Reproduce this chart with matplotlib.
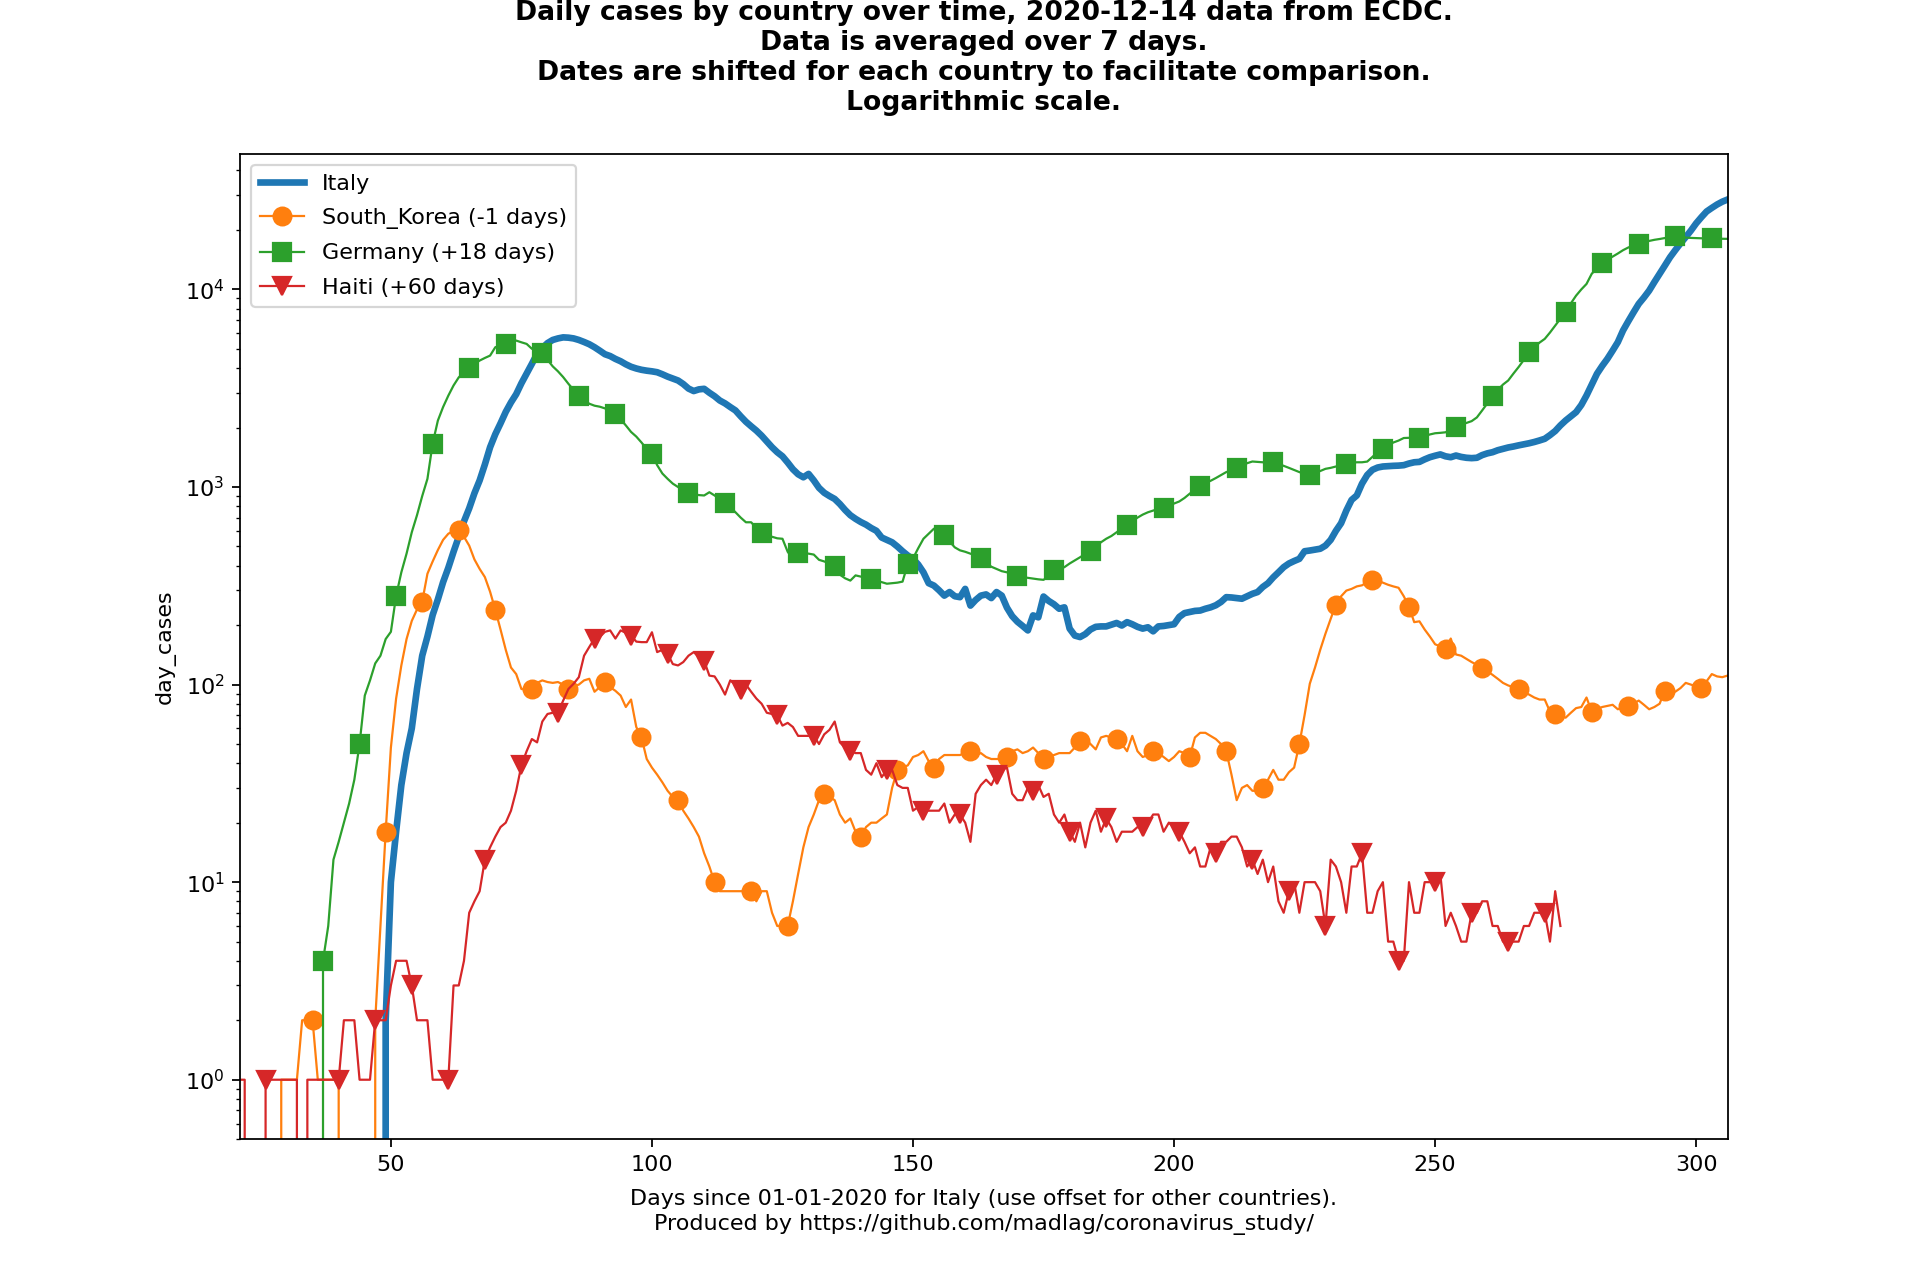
import numpy as np
import matplotlib
matplotlib.use('Agg')
import matplotlib.pyplot as plt

# 7-day averaged daily cases, one value per day
italy_start = 48
italy_cases = [
    0, 2, 10, 18, 31, 45, 60, 95, 140, 175,
    225, 270, 330, 390, 470, 560, 670, 780, 930, 1080,
    1300, 1590, 1850, 2100, 2400, 2680, 2950, 3350, 3750, 4200,
    4720, 5050, 5350, 5550, 5650, 5720, 5700, 5650, 5550, 5420,
    5280, 5100, 4900, 4700, 4600, 4450, 4330, 4180, 4060, 3980,
    3920, 3880, 3850, 3810, 3720, 3620, 3540, 3460, 3320, 3150,
    3060, 3120, 3140, 3000, 2880, 2740, 2650, 2540, 2440, 2280,
    2140, 2030, 1930, 1820, 1700, 1590, 1500, 1430, 1330, 1230,
    1160, 1120, 1165, 1080, 990, 935, 900, 870, 820, 765,
    720, 690, 665, 645, 620, 600, 555, 540, 525, 500,
    473, 450, 433, 405, 370, 326, 317, 300, 282, 294,
    280, 277, 305, 251, 268, 282, 286, 274, 294, 282,
    245, 222, 208, 198, 188, 224, 219, 279, 265, 255,
    242, 246, 192, 177, 174, 180, 190, 196, 197, 197,
    201, 205, 199, 207, 202, 196, 192, 195, 186, 197,
    198, 200, 202, 220, 230, 233, 236, 237, 242, 246,
    252, 262, 277, 276, 274, 272, 280, 288, 294, 312,
    326, 349, 370, 393, 410, 422, 433, 473, 477, 482,
    487, 505, 540, 600, 656, 760, 860, 906, 1040, 1150,
    1222, 1255, 1270, 1275, 1280, 1283, 1290, 1315, 1334, 1340,
    1380, 1415, 1440, 1462, 1430, 1415, 1443, 1420, 1406, 1400,
    1406, 1450, 1480, 1500, 1535, 1560, 1585, 1603, 1625, 1645,
    1665, 1690, 1720, 1754, 1830, 1920, 2050, 2170, 2280, 2393,
    2600, 2905, 3300, 3741, 4100, 4455, 4900, 5410, 6200, 6900,
    7650, 8450, 9100, 9865, 10900, 11990, 13200, 14550, 15800, 17100,
    18400, 19860, 21600, 23200, 24800, 25860, 26900, 27800, 28500,
]

korea_start = 28
korea_cases = [
    0, 1, 1, 1, 1, 2, 2, 2, 1, 1,
    1, 1, 1, 0, 0, 0, 0, 0, 0, 2,
    6, 18, 48, 85, 125, 170, 210, 240, 263, 364,
    420, 480, 540, 580, 600, 603, 560, 505, 430, 385,
    350, 295, 239, 190, 150, 122, 113, 95, 94, 95,
    102, 105, 103, 102, 103, 100, 95, 98, 100, 105,
    107, 92, 97, 103, 97, 93, 88, 77, 84, 61,
    54, 42, 38, 35, 32, 29, 27, 26, 23, 21,
    19, 17, 14, 12, 10, 9, 9, 9, 9, 9,
    9, 9, 8, 9, 9, 7, 6, 6, 6, 8,
    11, 15, 19, 22, 26, 28, 27, 26, 22, 20,
    21, 18, 17, 19, 20, 20, 21, 22, 30, 37,
    38, 39, 43, 44, 46, 41, 38, 42, 44, 44,
    44, 44, 45, 46, 44, 45, 43, 42, 42, 42,
    43, 46, 47, 45, 46, 48, 45, 42, 43, 44,
    45, 45, 45, 48, 52, 53, 50, 47, 54, 55,
    54, 53, 50, 46, 55, 46, 43, 44, 46, 45,
    43, 41, 43, 46, 45, 43, 54, 57, 57, 55,
    53, 50, 46, 35, 26, 30, 31, 29, 29, 30,
    33, 37, 33, 33, 36, 38, 50, 70, 101, 122,
    150, 181, 215, 254, 280, 299, 305, 314, 318, 330,
    339, 335, 328, 320, 314, 309, 280, 248, 207, 209,
    190, 175, 160, 156, 152, 171, 142, 140, 135, 130,
    126, 122, 117, 112, 107, 102, 99, 97, 95, 92,
    89, 86, 84, 84, 73, 71, 69, 68, 72, 76,
    77, 86, 73, 75, 77, 78, 79, 75, 77, 78,
    80, 83, 79, 75, 77, 80, 93, 92, 92, 96,
    102, 100, 98, 96, 104, 113, 110, 109, 111,
]

germany_start = 36
germany_cases = [
    0, 4, 6, 13, 16, 20, 25, 33, 50, 88,
    105, 128, 140, 170, 185, 281, 370, 460, 590, 720,
    900, 1100, 1660, 2170, 2540, 2900, 3265, 3590, 3800, 4000,
    4200, 4365, 4500, 4625, 5100, 5200, 5320, 5450, 5510, 5400,
    5300, 5010, 4900, 4790, 4400, 4080, 3850, 3600, 3330, 3100,
    2880, 2750, 2640, 2580, 2550, 2500, 2420, 2345, 2200, 2050,
    1900, 1800, 1680, 1560, 1470, 1290, 1170, 1100, 1040, 1000,
    960, 933, 920, 910, 906, 941, 906, 870, 832, 790,
    745, 700, 663, 663, 620, 582, 570, 560, 550, 547,
    470, 433, 463, 462, 460, 455, 428, 420, 410, 396,
    360, 345, 336, 357, 352, 346, 343, 335, 330, 324,
    326, 328, 332, 408, 435, 490, 547, 580, 615, 600,
    574, 530, 495, 478, 470, 460, 450, 437, 415, 395,
    385, 375, 370, 360, 353, 350, 347, 344, 341, 339,
    355, 379, 385, 393, 410, 425, 441, 458, 476, 500,
    525, 547, 565, 590, 615, 643, 670, 700, 725, 745,
    760, 775, 786, 805, 825, 845, 880, 925, 970, 1016,
    1050, 1075, 1110, 1150, 1190, 1210, 1241, 1280, 1320, 1346,
    1340, 1334, 1332, 1334, 1310, 1280, 1250, 1220, 1190, 1165,
    1156, 1180, 1205, 1236, 1250, 1270, 1290, 1313, 1325, 1334,
    1334, 1345, 1420, 1500, 1560, 1620, 1680, 1718, 1770, 1774,
    1770, 1774, 1810, 1845, 1871, 1880, 1892, 1950, 2016, 2070,
    2110, 2155, 2250, 2438, 2650, 2880, 3100, 3300, 3460, 3750,
    4050, 4400, 4820, 5100, 5380, 5620, 6050, 6560, 7100, 7710,
    8500, 9300, 10000, 10660, 12000, 12800, 13650, 14200, 14660, 15200,
    15800, 16300, 16700, 16900, 17300, 17600, 17830, 18000, 18200, 18500,
    18700, 18500, 18300, 18230, 18200, 18150, 18100, 18160, 18100, 18050, 18030,
]

haiti_start = 19
haiti_cases = [
    1, 1, 1, 1, 0, 0, 0, 1, 1, 1,
    1, 1, 1, 1, 0, 1, 1, 1, 1, 1,
    1, 1, 2, 2, 2, 1, 1, 1, 2, 2,
    2, 3, 4, 4, 4, 3, 2, 2, 2, 1,
    1, 1, 1, 3, 3, 4, 7, 8, 9, 13,
    15, 17, 19, 20, 23, 29, 39, 46, 53, 51,
    65, 71, 72, 72, 83, 95, 101, 109, 140, 155,
    171, 174, 185, 188, 171, 188, 183, 177, 165, 164,
    164, 184, 146, 150, 143, 127, 125, 130, 140, 146,
    138, 132, 111, 110, 100, 89, 105, 100, 94, 100,
    92, 85, 80, 72, 71, 70, 62, 64, 61, 55,
    55, 55, 55, 50, 56, 59, 65, 51, 48, 46,
    45, 45, 37, 35, 40, 34, 37, 37, 31, 30,
    30, 23, 24, 23, 23, 23, 23, 25, 20, 22,
    22, 20, 16, 28, 31, 33, 31, 35, 37, 38,
    28, 26, 26, 30, 29, 31, 27, 28, 22, 20,
    22, 18, 16, 20, 15, 20, 23, 18, 21, 19,
    16, 18, 18, 18, 19, 19, 20, 22, 22, 18,
    20, 19, 18, 16, 14, 15, 12, 12, 15, 14,
    16, 16, 17, 17, 15, 12, 13, 11, 13, 10,
    12, 8, 7, 9, 10, 7, 10, 10, 10, 9,
    6, 13, 12, 10, 7, 12, 12, 14, 7, 7,
    9, 10, 5, 5, 4, 4, 10, 7, 7, 10,
    10, 10, 11, 6, 7, 6, 5, 5, 7, 7,
    8, 8, 6, 6, 5, 5, 5, 5, 6, 6,
    7, 7, 7, 5, 9, 6,
]

labels = ['Italy', 'South_Korea (-1 days)', 'Germany (+18 days)', 'Haiti (+60 days)']

title = ('Daily cases by country over time, 2020-12-14 data from ECDC.\n'
         'Data is averaged over 7 days.\n'
         'Dates are shifted for each country to facilitate comparison.\n'
         'Logarithmic scale.\n')
xlabel = ('Days since 01-01-2020 for Italy (use offset for other countries).\n'
          'Produced by https://github.com/madlag/coronavirus_study/')


def days(start, values):
    return np.arange(start, start + len(values))


fig = plt.figure(figsize=(12, 8), dpi=160)
ax = fig.add_subplot(111)

ax.plot(days(italy_start, italy_cases), italy_cases, color='C0', linewidth=3, label=labels[0])
ax.plot(days(korea_start, korea_cases), korea_cases, color='C1', linewidth=1,
        marker='o', markersize=8, markevery=7, label=labels[1])
ax.plot(days(germany_start, germany_cases), germany_cases, color='C2', linewidth=1,
        marker='s', markersize=8, markevery=(1, 7), label=labels[2])
ax.plot(days(haiti_start, haiti_cases), haiti_cases, color='C3', linewidth=1,
        marker='v', markersize=8, markevery=7, label=labels[3])

ax.set_yscale('log')
ax.set_xlim(21.1, 306.1)
ax.set_ylim(0.5, 48700)

ax.set_title(title, fontweight='bold')
ax.set_xlabel(xlabel, labelpad=6.5, linespacing=1.3)
ax.set_ylabel('day_cases')
ax.legend(loc='upper left', labelspacing=0.65)

fig.savefig('out.png', dpi=160)
